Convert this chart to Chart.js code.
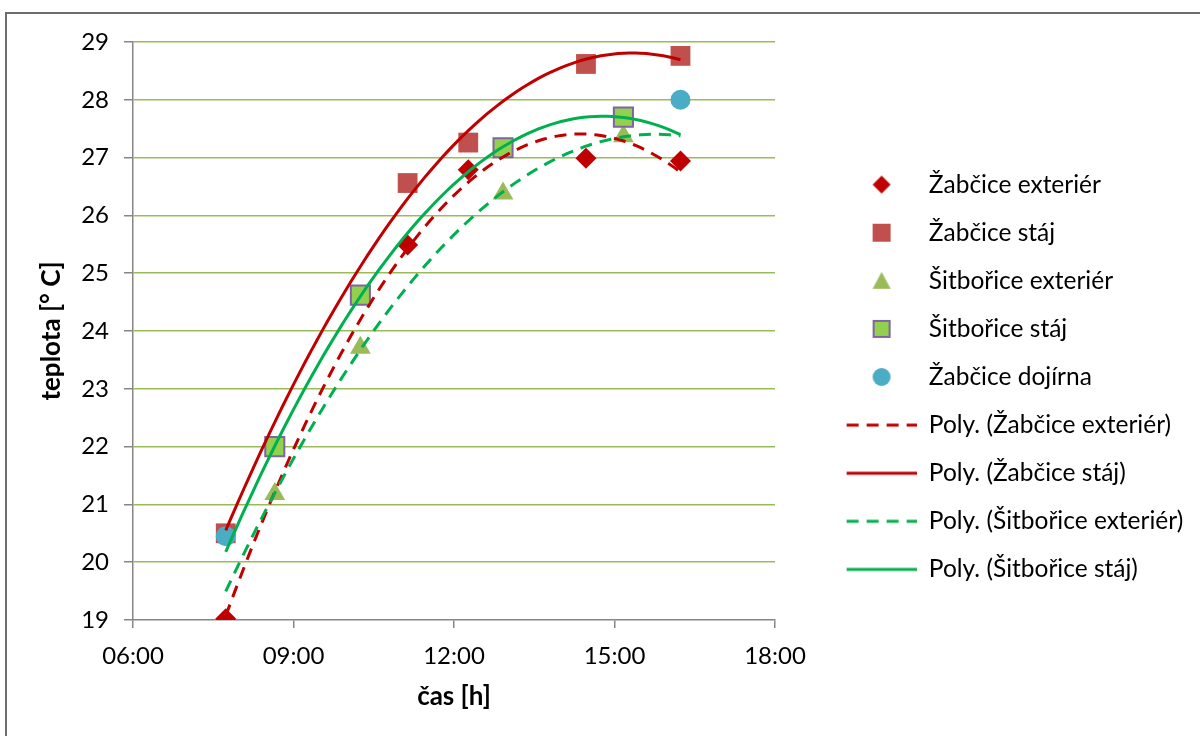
<!DOCTYPE html>
<html>
<head>
<meta charset="utf-8">
<script src="https://cdn.jsdelivr.net/npm/chart.js@4.4.1/dist/chart.umd.min.js"></script>
<style>
    html, body { margin: 0; padding: 0; background: #fff; }
</style>
</head>
<body>
<canvas id="teplotaChart" width="1200" height="736"></canvas>
<script>
// measurement times
const zabTimes = ['07:44', '11:08', '12:16', '14:28', '16:14'];
const sitTimes = ['08:39', '10:15', '12:55', '15:10'];
const dojirnaTimes = ['07:44', '16:14'];

// temperatures [°C]
const zabExterier = [19.02, 25.49, 26.79, 26.99, 26.94];
const zabStaj = [20.50, 26.56, 27.26, 28.62, 28.76];
const sitExterier = [21.18, 23.71, 26.38, 27.37];
const sitStaj = [22.00, 24.62, 27.17, 27.70];
const zabDojirna = [20.45, 28.00];

const xTickValues = [6, 9, 12, 15, 18];
const xTickLabels = ['06:00', '09:00', '12:00', '15:00', '18:00'];

const seriesNames = ['Žabčice exteriér', 'Žabčice stáj', 'Šitbořice exteriér', 'Šitbořice stáj', 'Žabčice dojírna'];

function toHours(s) {
    const [h, m] = s.split(':').map(Number);
    return h + m / 60;
}

function toPoints(times, values) {
    return times.map((t, i) => ({ x: toHours(t), y: values[i] }));
}

// 2nd order least squares, like the Excel "Poly." trendline
function polyFit2(xs, ys) {
    const mean = xs.reduce((a, b) => a + b, 0) / xs.length;
    const S = [0, 0, 0, 0, 0], T = [0, 0, 0];
    xs.forEach((x0, i) => {
        const x = x0 - mean;
        let p = 1;
        for (let k = 0; k < 5; k++) {
            S[k] += p;
            if (k < 3) T[k] += p * ys[i];
            p *= x;
        }
    });
    const M = [[S[0], S[1], S[2], T[0]], [S[1], S[2], S[3], T[1]], [S[2], S[3], S[4], T[2]]];
    for (let i = 0; i < 3; i++) {
        for (let j = i + 1; j < 3; j++) {
            const f = M[j][i] / M[i][i];
            for (let k = i; k < 4; k++) M[j][k] -= f * M[i][k];
        }
    }
    const c = [0, 0, 0];
    for (let i = 2; i >= 0; i--) {
        let s = M[i][3];
        for (let k = i + 1; k < 3; k++) s -= M[i][k] * c[k];
        c[i] = s / M[i][i];
    }
    return x => { const u = x - mean; return c[0] + c[1] * u + c[2] * u * u; };
}

const allHours = [...zabTimes, ...sitTimes, ...dojirnaTimes].map(toHours);
const trendFrom = Math.min(...allHours);
const trendTo = Math.max(...allHours);

function trendPoints(times, values) {
    const f = polyFit2(times.map(toHours), values);
    const pts = [];
    const n = 80;
    for (let i = 0; i <= n; i++) {
        const x = trendFrom + (trendTo - trendFrom) * i / n;
        pts.push({ x: x, y: f(x) });
    }
    return pts;
}

const RED = '#C00000';
const GREEN = '#00B050';
const DASH = [12, 8];

// legend icons drawn into small canvases (symbol sits in the right 70px)
const ICON_W = 118;
function icon(draw) {
    const c = document.createElement('canvas');
    c.width = ICON_W;
    c.height = 24;
    draw(c.getContext('2d'), ICON_W - 35, 12);
    return c;
}
function iconLine(color, dashed) {
    return icon((g, x, y) => {
        g.strokeStyle = color;
        g.lineWidth = 3;
        if (dashed) g.setLineDash(DASH);
        g.beginPath();
        g.moveTo(ICON_W - 70, y);
        g.lineTo(ICON_W, y);
        g.stroke();
    });
}
const legendIcons = [
    icon((g, x, y) => { g.fillStyle = RED; g.beginPath(); g.moveTo(x - 9, y); g.lineTo(x, y - 9); g.lineTo(x + 9, y); g.lineTo(x, y + 9); g.fill(); }),
    icon((g, x, y) => { g.fillStyle = '#C0504D'; g.fillRect(x - 9, y - 9, 18, 18); }),
    icon((g, x, y) => { g.fillStyle = '#9BBB59'; g.beginPath(); g.moveTo(x, y - 9); g.lineTo(x + 9, y + 8); g.lineTo(x - 9, y + 8); g.fill(); }),
    icon((g, x, y) => { g.fillStyle = '#92D050'; g.strokeStyle = '#8064A2'; g.lineWidth = 2; g.fillRect(x - 8, y - 8, 16, 16); g.strokeRect(x - 8, y - 8, 16, 16); }),
    icon((g, x, y) => { g.fillStyle = '#4BACC6'; g.beginPath(); g.arc(x, y, 9, 0, Math.PI * 2); g.fill(); }),
    iconLine(RED, true),
    iconLine(RED, false),
    iconLine(GREEN, true),
    iconLine(GREEN, false)
];

const frame = {
    id: 'frame',
    beforeDraw(chart) {
        const ctx = chart.ctx;
        ctx.save();
        ctx.fillStyle = '#fff';
        ctx.fillRect(0, 0, chart.width, chart.height);
        ctx.strokeStyle = '#6d6d6d';
        ctx.lineWidth = 2;
        ctx.strokeRect(6, 13, chart.width + 20, chart.height + 20);
        ctx.restore();
    }
};

Chart.defaults.font.family = 'Lato';
Chart.defaults.font.size = 24;
Chart.defaults.color = '#000';

const ctx = document.getElementById('teplotaChart').getContext('2d');
const myChart = new Chart(ctx, {
    type: 'scatter',
    data: {
        datasets: [{
            label: seriesNames[0],
            data: toPoints(zabTimes, zabExterier),
            pointStyle: 'rectRot', pointRadius: 10.5, backgroundColor: RED, borderWidth: 0, order: 9
        }, {
            label: seriesNames[1],
            data: toPoints(zabTimes, zabStaj),
            pointStyle: 'rect', pointRadius: 14, backgroundColor: '#C0504D', borderWidth: 0, order: 8
        }, {
            label: seriesNames[2],
            data: toPoints(sitTimes, sitExterier),
            pointStyle: 'triangle', pointRadius: 12, backgroundColor: '#9BBB59', borderWidth: 0, order: 7
        }, {
            label: seriesNames[3],
            data: toPoints(sitTimes, sitStaj),
            pointStyle: 'rect', pointRadius: 13.5, backgroundColor: '#92D050', borderColor: '#8064A2', borderWidth: 2, order: 6
        }, {
            label: seriesNames[4],
            data: toPoints(dojirnaTimes, zabDojirna),
            pointStyle: 'circle', pointRadius: 10, backgroundColor: '#4BACC6', borderWidth: 0, order: 5
        }, {
            label: 'Poly. (' + seriesNames[0] + ')',
            data: trendPoints(zabTimes, zabExterier),
            showLine: true, pointRadius: 0, borderColor: RED, borderWidth: 3, borderDash: DASH, order: 4
        }, {
            label: 'Poly. (' + seriesNames[1] + ')',
            data: trendPoints(zabTimes, zabStaj),
            showLine: true, pointRadius: 0, borderColor: RED, borderWidth: 3, order: 3
        }, {
            label: 'Poly. (' + seriesNames[2] + ')',
            data: trendPoints(sitTimes, sitExterier),
            showLine: true, pointRadius: 0, borderColor: GREEN, borderWidth: 3, borderDash: DASH, order: 2
        }, {
            label: 'Poly. (' + seriesNames[3] + ')',
            data: trendPoints(sitTimes, sitStaj),
            showLine: true, pointRadius: 0, borderColor: GREEN, borderWidth: 3, order: 1
        }]
    },
    options: {
        responsive: false,
        animation: false,
        layout: { padding: { left: 20, top: 42, right: 5, bottom: 24 } },
        plugins: {
            tooltip: { enabled: false },
            legend: {
                position: 'right',
                maxWidth: 600,
                labels: {
                    usePointStyle: true,
                    pointStyleWidth: ICON_W,
                    padding: 23.6,
                    font: { size: 24.5 },
                    sort: (a, b) => a.datasetIndex - b.datasetIndex,
                    generateLabels(chart) {
                        const items = Chart.defaults.plugins.legend.labels.generateLabels(chart);
                        items.forEach(it => { it.pointStyle = legendIcons[it.datasetIndex]; it.lineDash = []; });
                        return items;
                    }
                }
            }
        },
        scales: {
            x: {
                type: 'linear',
                min: 6,
                max: 18,
                afterBuildTicks: scale => { scale.ticks = xTickValues.map(v => ({ value: v })); },
                afterFit: scale => { scale.height = 92; scale.paddingRight = 425; scale.paddingLeft = 0; },
                ticks: {
                    padding: 14,
                    maxRotation: 0,
                    callback: (v) => xTickLabels[xTickValues.indexOf(v)]
                },
                grid: { drawOnChartArea: false, tickColor: '#868686', tickLength: 8, lineWidth: 1.5 },
                border: { color: '#868686', width: 1.5 },
                title: { display: true, text: 'čas [h]', font: { size: 26, weight: 'bold' }, padding: { top: 0, bottom: 0 } }
            },
            y: {
                min: 19,
                max: 29,
                afterFit: scale => { scale.width = 113; scale.paddingTop = 0; scale.paddingBottom = 0; },
                ticks: { stepSize: 1, padding: 15 },
                grid: {
                    color: c => (c.tick && c.tick.value === 19) ? 'rgba(0,0,0,0)' : '#9BBB59',
                    lineWidth: 1.5,
                    tickColor: '#868686',
                    tickLength: 9
                },
                border: { color: '#868686', width: 1.5 },
                title: { display: true, text: 'teplota [° C]', font: { size: 26, weight: 'bold' }, padding: { top: 16, bottom: 0 } }
            }
        }
    },
    plugins: [frame]
});
</script>
</body>
</html>
